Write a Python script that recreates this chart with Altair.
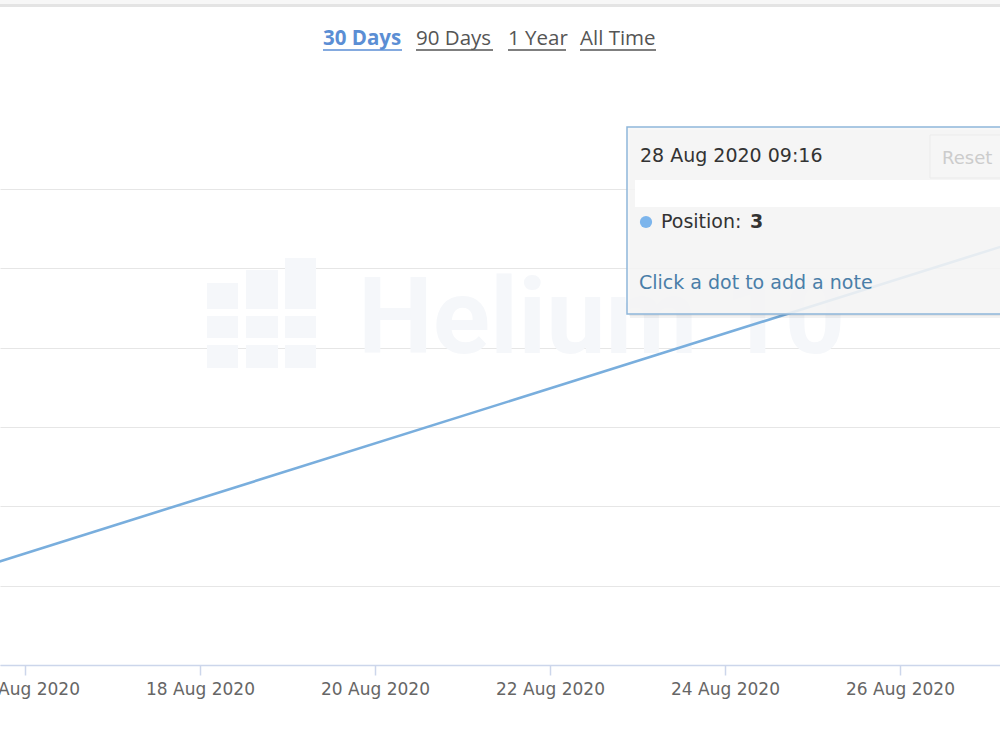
import altair as alt
import pandas as pd

# ---- data ----
dates = ["2020-08-13T09:16:00Z", "2020-08-28T09:16:00Z"]
positions = [55, 3]
tick_dates = ["2020-08-16T00:00:00Z", "2020-08-18T00:00:00Z", "2020-08-20T00:00:00Z",
              "2020-08-22T00:00:00Z", "2020-08-24T00:00:00Z", "2020-08-26T00:00:00Z"]
x_window = ["2020-08-15T17:08:34Z", "2020-08-27T03:25:43Z"]
y_ticks = [0, 10, 20, 30, 40, 50, 60]
y_window = [0, 60]
range_labels = ["30 Days", "90 Days", "1 Year", "All Time"]
tooltip_date = "28 Aug 2020 09:16"
tooltip_series = "Position:"
tooltip_value = "3"
tooltip_note = "Click a dot to add a note"
reset_label = "Reset"
watermark = "Helium 10"


def ms(s):
    return int(pd.Timestamp(s).value // 10**6)


OY = 189  # top of plot area in page pixels

df = pd.DataFrame({"date": dates, "position": positions})
one = pd.DataFrame({"k": [0]})

x_enc = alt.X(
    "date:T",
    scale=alt.Scale(type="utc", domain=[ms(d) for d in x_window]),
    axis=alt.Axis(
        values=[ms(d) for d in tick_dates], format="%d %b %Y", labelFlush=False,
        labelOverlap=False, grid=False, domainColor="#ccd6eb", domainWidth=1.5,
        tickColor="#ccd6eb", tickSize=10, tickWidth=1.5, labelColor="#666666",
        labelFont="DejaVu Sans", labelFontSize=17, labelPadding=6, title=None,
    ),
)
y_enc = alt.Y(
    "position:Q",
    scale=alt.Scale(domain=y_window, reverse=True, nice=False, zero=False),
    axis=alt.Axis(values=y_ticks, labels=False, ticks=False, domain=False, grid=True,
                  gridColor="#e6e6e6", gridWidth=1.2, title=None),
)


def rect(x, x2, y, y2, **kw):
    return alt.Chart(one).mark_rect(**kw).encode(
        x=alt.value(x), x2=alt.value(x2), y=alt.value(y - OY), y2=alt.value(y2 - OY)
    )


def rule(x, x2, y, **kw):
    return alt.Chart(one).mark_rule(**kw).encode(
        x=alt.value(x), x2=alt.value(x2), y=alt.value(y - OY)
    )


def text(s, x, y, **kw):
    kw.setdefault("align", "left")
    kw.setdefault("baseline", "middle")
    return alt.Chart(pd.DataFrame({"t": [s]})).mark_text(**kw).encode(
        x=alt.value(x), y=alt.value(y - OY), text="t:N"
    )


layers = []

# top grey band
layers.append(rect(0, 1000, 0, 4, fill="#f7f7f7"))
layers.append(rect(0, 1000, 4, 7, fill="#e4e4e4"))

# watermark logo + text
wm = "#f5f7fa"
for (xa, xb, top) in [(207, 238, 283), (246, 278, 270), (285, 316, 258)]:
    layers.append(rect(xa, xb, top, 309, fill=wm))
    layers.append(rect(xa, xb, 316, 338, fill=wm))
    layers.append(rect(xa, xb, 345, 368, fill=wm))
layers.append(text(watermark, 358, 321, font="Roboto", fontWeight="bold",
                   fontSize=106, color=wm))

# range selector
sel_x = [323, 416, 508, 580]
sel_w = [79, 77, 58, 76]
for i, lab in enumerate(range_labels):
    col = "#5b8ed4" if i == 0 else "#555555"
    layers.append(text(lab, sel_x[i], 39, font="Open Sans", fontSize=20.5,
                       fontWeight="bold" if i == 0 else "normal", color=col))
    layers.append(rule(sel_x[i], sel_x[i] + sel_w[i], 50, color=col, strokeWidth=1.5))

# data line
line = alt.Chart(df).mark_line(color="#79aedd", strokeWidth=2.6, clip=True).encode(
    x=x_enc, y=y_enc
)
layers.append(line)

# tooltip
layers.append(rect(630, 1010, 130, 318, fill="#000000", fillOpacity=0.05))
layers.append(rect(629, 1010, 129, 316, fill="#000000", fillOpacity=0.05))
layers.append(rect(627, 1010, 127, 314, fill="#f7f7f7", fillOpacity=0.88,
                   stroke="#8eb6da", strokeWidth=1.5))
layers.append(rect(635, 1000, 180, 207, fill="#ffffff"))
layers.append(rect(930, 1006, 135, 178, fill="#f6f6f6", stroke="#ebebeb", strokeWidth=1))
layers.append(text(reset_label, 942, 159, font="DejaVu Sans", fontSize=18, color="#cccccc"))
layers.append(text(tooltip_date, 640, 156, font="DejaVu Sans", fontSize=19, color="#333333"))
layers.append(alt.Chart(one).mark_circle(color="#7cb5ec", opacity=1, size=150).encode(
    x=alt.value(646), y=alt.value(222 - OY)))
layers.append(text(tooltip_series, 661, 222, font="DejaVu Sans", fontSize=19, color="#333333"))
layers.append(text(tooltip_value, 750, 222, font="DejaVu Sans", fontSize=19,
                   fontWeight="bold", color="#333333"))
layers.append(text(tooltip_note, 639, 283, font="DejaVu Sans", fontSize=19, color="#4a7ea8"))

chart = alt.layer(*layers).properties(
    width=1000, height=665 - OY,
    padding={"left": 0, "right": 0, "top": OY, "bottom": 85},
    autosize=alt.AutoSizeParams(type="none"),
    background="#ffffff",
).configure_view(stroke=None)

chart.save("out.html", embed_options={"renderer": "svg", "actions": False})
